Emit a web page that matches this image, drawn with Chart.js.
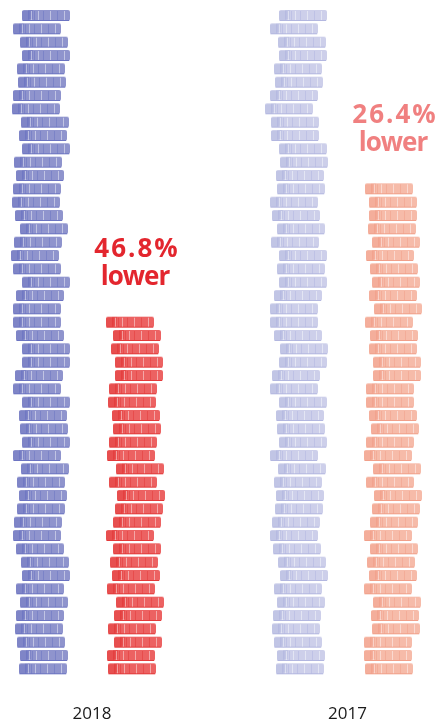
<!DOCTYPE html>
<html>
<head>
<meta charset="utf-8">
<script src="https://cdn.jsdelivr.net/npm/chart.js@4.4.1/dist/chart.umd.min.js"></script>
<style>
  html, body { margin: 0; padding: 0; background: #fff; }
  #wrap { position: relative; width: 440px; height: 724px; }
</style>
</head>
<body>
<div id="wrap"><canvas id="chart"></canvas></div>
<script>
/* DATA */
const years = ["2018", "2017"];
const fullStacks = [50, 50];      // chips in the left (full) stack of each year
const lowerStacks = [27, 37];     // chips in the right (reduced) stack
const dropLabels = ["46.8%", "26.4%"];
const dropWord = "lower";

/* LAYOUT - stack left edges and per-chip wobble, top chip first */
const stackLeft = [11, 106, 264, 364];
const wobble = [
  [11,2,9,11,6,7,2,1,10,8,11,3,5,2,1,4,9,3,0,2,11,5,2,2,5,11,11,4,2,11,8,9,11,2,10,6,8,6,3,2,5,10,11,5,9,5,4,6,9,8],
  [0,7,5,9,9,3,2,6,7,3,1,10,3,11,9,7,0,7,4,6,1,10,8,2,8,1,2],
  [15,6,14,15,10,11,6,1,7,7,15,16,12,13,6,8,13,7,15,13,15,10,6,6,10,16,15,8,6,15,12,13,15,6,14,10,12,11,8,6,9,14,16,10,13,9,8,10,13,12],
  [1,5,5,4,8,2,6,8,5,10,1,6,5,9,9,2,2,5,7,2,0,9,2,10,8,6,0,6,3,5,0,9,7,8,0,0,1]
];
const CHIP_W = 48, CHIP_H = 11, ROW = 40 / 3, BASE_Y = 668.8;

const chipColors = [
  { body: "#8f94cd", dark: "#6c74c2" },
  { body: "#ec6262", dark: "#e33a3a" },
  { body: "#cdcfea", dark: "#b3b7e0" },
  { body: "#f6bba9", dark: "#f1a08a" }
];
const labelColors = ["#e3262e", "#f08080"];

/* CHIP IMAGE */
function makeChip(body, dark) {
  const c = document.createElement("canvas");
  c.width = CHIP_W + 2;
  c.height = CHIP_H + 2;
  const g = c.getContext("2d");
  g.fillStyle = body;
  g.beginPath();
  g.roundRect(1, 1, CHIP_W, CHIP_H, 2);
  g.fill();
  // darker offset block on the left
  g.globalAlpha = 0.45;
  g.fillStyle = dark;
  g.fillRect(1, 2, 8, CHIP_H - 1);
  g.fillRect(7, 1, 5, CHIP_H - 2);
  g.globalAlpha = 1;
  // bottom edge
  g.fillStyle = dark;
  g.fillRect(2, CHIP_H, CHIP_W - 2, 1);
  // edge lines
  [7, 10, 13, 17, 22, 29, 36, 43].forEach((x, i) => {
    g.fillStyle = i % 2 ? "rgba(255,255,255,0.45)" : dark;
    g.globalAlpha = i % 2 ? 1 : 0.55;
    g.fillRect(x, 2, 1, CHIP_H - 2);
  });
  g.globalAlpha = 1;
  return c;
}

function stackPoints(s, count) {
  const pts = [];
  for (let j = 0; j < count; j++) {
    pts.push({ x: stackLeft[s] + wobble[s][j] + CHIP_W / 2, y: count - 1 - j });
  }
  return pts;
}

const counts = [fullStacks[0], lowerStacks[0], fullStacks[1], lowerStacks[1]];
const datasets = counts.map((n, s) => ({
  data: stackPoints(s, n),
  pointStyle: makeChip(chipColors[s].body, chipColors[s].dark),
  pointRadius: 12,
  pointHoverRadius: 12
}));

/* LABELS */
const labelPlugin = {
  id: "labels",
  afterDatasetsDraw(chart) {
    const g = chart.ctx;
    const xs = chart.scales.x, ys = chart.scales.y;
    g.save();
    g.textAlign = "center";
    g.textBaseline = "alphabetic";
    years.forEach((yr, k) => {
      const reduced = 2 * k + 1;
      const cx = xs.getPixelForValue(stackLeft[reduced] + 5 + CHIP_W / 2);
      const top = ys.getPixelForValue(lowerStacks[k] - 1) - CHIP_H / 2;
      g.fillStyle = labelColors[k];
      g.font = "bold 26px 'Open Sans'";
      g.letterSpacing = "2px";
      g.fillText(dropLabels[k], cx + 2, top - 60);
      g.letterSpacing = "-1px";
      g.fillText(dropWord, cx, top - 32);
      g.letterSpacing = "0px";

      const left = xs.getPixelForValue(stackLeft[2 * k] + CHIP_W / 2 + 8);
      const mid = (left + cx) / 2;
      g.fillStyle = "#1a1a1a";
      g.font = "17px 'Open Sans'";
      g.fillText(yr, mid + 3, 719);
    });
    g.restore();
  }
};

new Chart(document.getElementById("chart"), {
  type: "scatter",
  data: { datasets },
  options: {
    responsive: true,
    maintainAspectRatio: false,
    animation: false,
    events: [],
    layout: { padding: 0, autoPadding: false },
    plugins: { legend: { display: false }, tooltip: { enabled: false } },
    scales: {
      x: { display: false, min: 0, max: 440 },
      y: { display: false, max: BASE_Y / ROW, min: BASE_Y / ROW - 724 / ROW }
    }
  },
  plugins: [labelPlugin]
});
</script>
</body>
</html>
